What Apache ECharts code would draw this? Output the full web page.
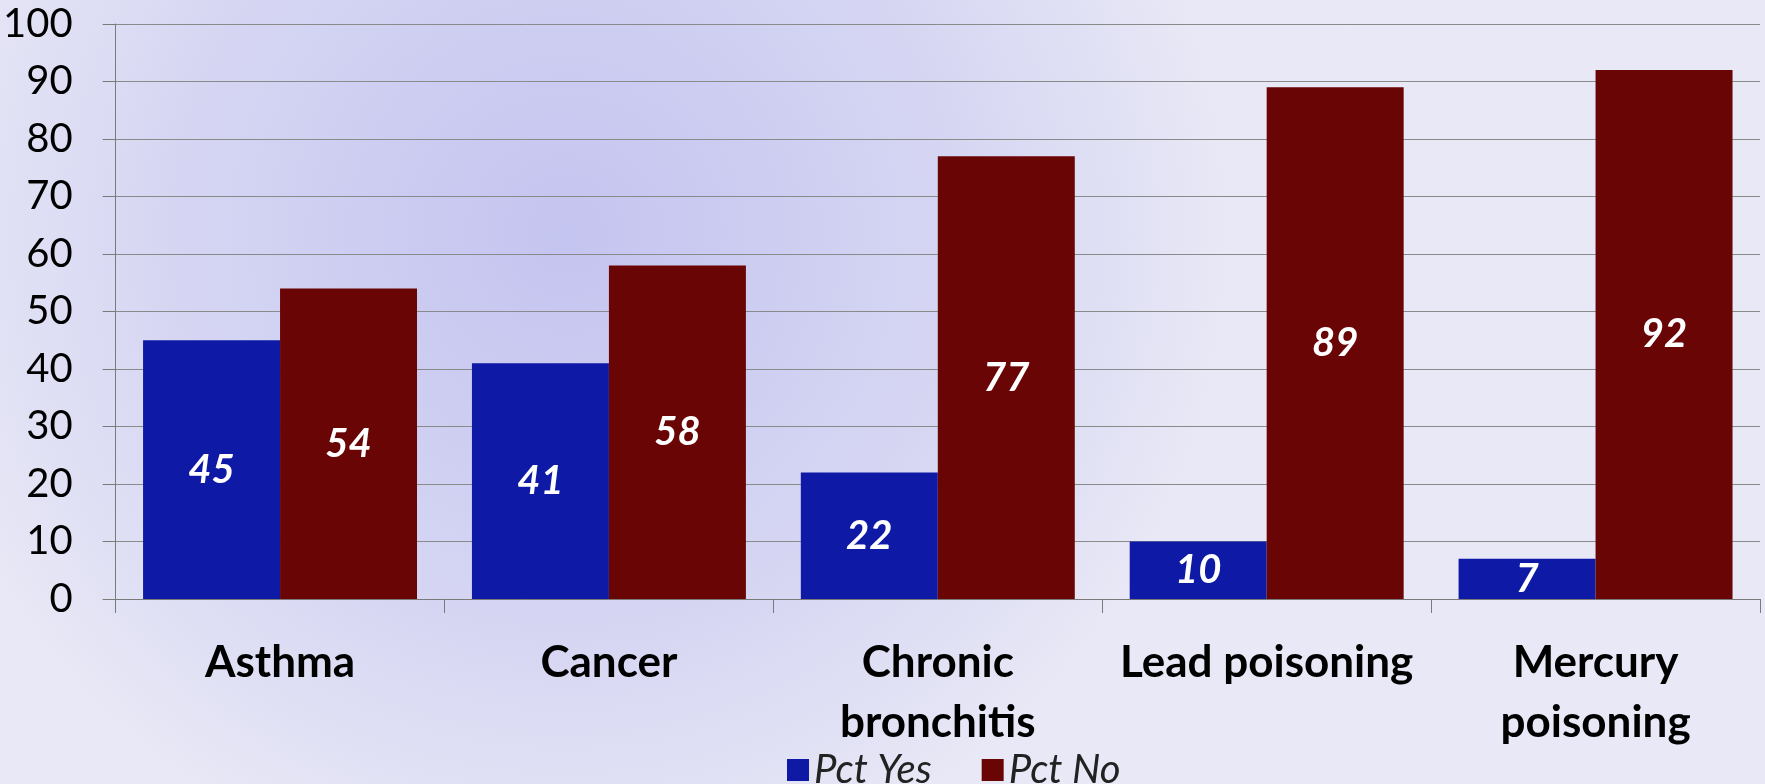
<!DOCTYPE html>
<html>
<head>
<meta charset="utf-8">
<script src="https://cdn.jsdelivr.net/npm/echarts@6/dist/echarts.min.js"></script>
<style>
  html, body { margin: 0; padding: 0; }
  #main { width: 1765px; height: 784px; }
</style>
</head>
<body>
<div id="main"></div>
<script>
const categories = ['Asthma', 'Cancer', 'Chronic\nbronchitis', 'Lead poisoning', 'Mercury\npoisoning']
const pctYes = [45, 41, 22, 10, 7]
const pctNo = [54, 58, 77, 89, 92]
const yTicks = [0, 10, 20, 30, 40, 50, 60, 70, 80, 90, 100]

const chart = echarts.init(document.getElementById('main'))

const labelStyle = {
    show: true,
    position: 'inside',
    color: '#ffffff',
    fontFamily: 'Lato',
    fontWeight: 'bold',
    fontStyle: 'italic',
    fontSize: 40
}

chart.setOption({
    backgroundColor: {
        type: 'radial',
        x: 0.32, y: 0.3, r: 0.85,
        colorStops: [
            { offset: 0, color: '#c4c4f0' },
            { offset: 0.6, color: '#d6d6f3' },
            { offset: 1, color: '#e8e8f6' }
        ]
    },
    animation: false,
    textStyle: { fontFamily: 'Lato' },
    grid: { left: 115, right: 5, top: 24, bottom: 185 },
    legend: {
        left: 782,
        top: 745,
        itemWidth: 22,
        itemHeight: 22,
        itemGap: 50,
        icon: 'rect',
        textStyle: {
            fontSize: 40, fontStyle: 'italic', color: '#222', fontFamily: 'Lato'
        },
        data: ['Pct Yes', 'Pct No']
    },
    xAxis: {
        type: 'category',
        data: categories,
        axisLine: { lineStyle: { color: '#7a7a7a', width: 1 } },
        axisTick: { show: true, length: 14, lineStyle: { color: '#7a7a7a' } },
        axisLabel: {
            margin: 34,
            interval: 0,
            color: '#000',
            fontSize: 44,
            fontWeight: 'bold',
            lineHeight: 60,
            fontFamily: 'Lato'
        }
    },
    yAxis: {
        type: 'value',
        min: yTicks[0],
        max: yTicks[yTicks.length - 1],
        interval: 10,
        axisLine: { show: true, lineStyle: { color: '#7a7a7a', width: 1 } },
        axisTick: { show: true, length: 13, lineStyle: { color: '#7a7a7a' } },
        splitLine: { lineStyle: { color: '#8a8a8a', width: 1 } },
        axisLabel: {
            margin: 43,
            color: '#000',
            fontSize: 40,
            fontFamily: 'Lato'
        }
    },
    series: [
        {
            name: 'Pct Yes',
            type: 'bar',
            data: pctYes,
            barGap: '0%',
            barCategoryGap: '16.7%',
            itemStyle: { color: '#0e1aa6' },
            label: labelStyle
        },
        {
            name: 'Pct No',
            type: 'bar',
            data: pctNo,
            itemStyle: { color: '#6a0505' },
            label: labelStyle
        }
    ]
})
</script>
</body>
</html>
